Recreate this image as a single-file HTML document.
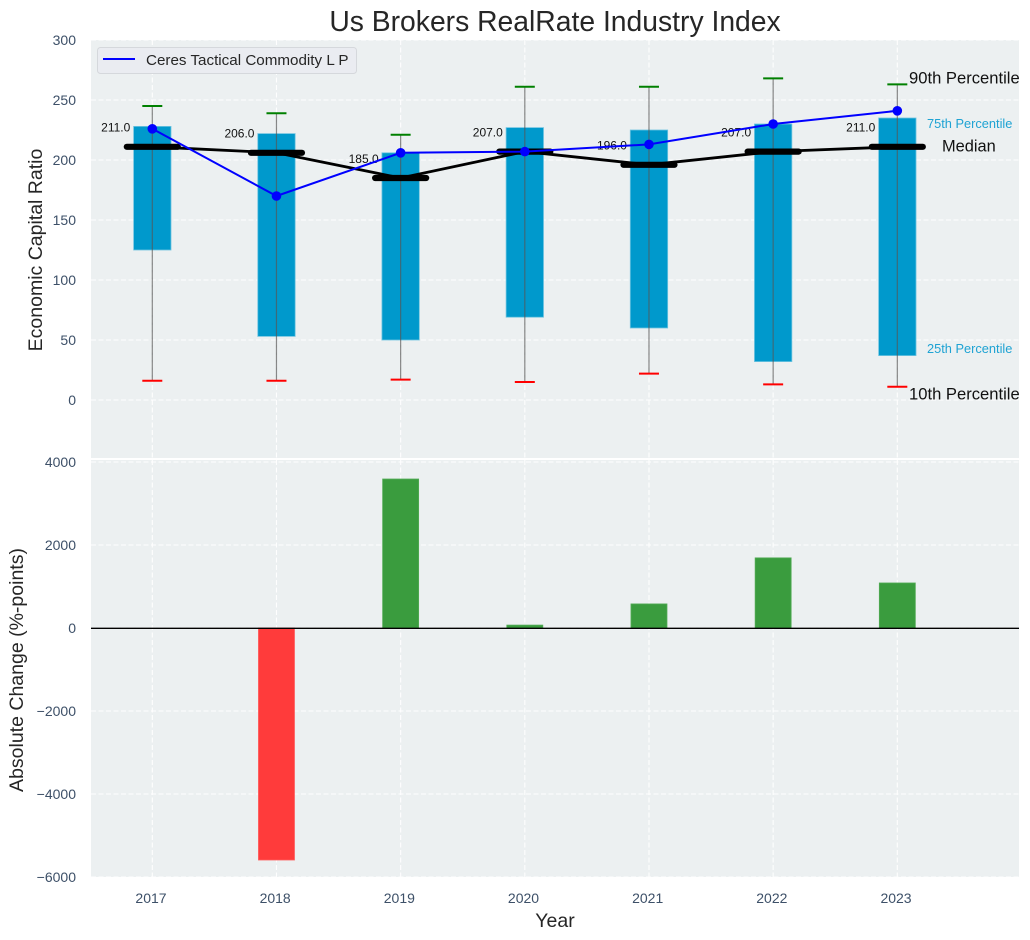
<!DOCTYPE html>
<html>
<head>
<meta charset="utf-8">
<title>Us Brokers RealRate Industry Index</title>
<style>
html,body{margin:0;padding:0;background:#fff;}
svg{display:block;font-family:"Liberation Sans",Arial,sans-serif;}
</style>
</head>
<body>
<svg id="chart" xmlns="http://www.w3.org/2000/svg" width="1030" height="940" viewBox="0 0 1030 940">
  <rect x="0" y="0" width="1030" height="940" fill="#ffffff"/>
  <rect x="91" y="40" width="928" height="418" fill="#ecf0f1"/>
  <rect x="91" y="460" width="928" height="417" fill="#ecf0f1"/>
  <g id="grid"></g>
  <g id="bottomMarks"></g>
  <g id="topMarks"></g>
  <g id="ticks"></g>
  <text x="555" y="31" font-size="28.3" text-anchor="middle" fill="#262626">Us Brokers RealRate Industry Index</text>
  <text transform="translate(42,250) rotate(-90)" font-size="19.5" text-anchor="middle" fill="#262626">Economic Capital Ratio</text>
  <text transform="translate(23,670) rotate(-90)" font-size="19.5" text-anchor="middle" fill="#262626">Absolute Change (%-points)</text>
  <text x="555" y="927" font-size="19.5" text-anchor="middle" fill="#262626">Year</text>
  <g>
    <rect x="97.5" y="47.5" width="259" height="26" rx="3" fill="#eaecf1" stroke="#d5d8dc"/>
    <line x1="103" y1="59" x2="135" y2="59" stroke="#0000ff" stroke-width="2"/>
    <text x="146" y="65" font-size="15.2" fill="#262626">Ceres Tactical Commodity L P</text>
  </g>
  <g>
    <text x="909" y="83.5" font-size="16.6" fill="#111111">90th Percentile</text>
    <text x="927" y="128" font-size="12.8" fill="#1fa3d3">75th Percentile</text>
    <text x="942" y="151.5" font-size="16.4" fill="#111111">Median</text>
    <text x="927" y="353" font-size="12.8" fill="#1fa3d3">25th Percentile</text>
    <text x="909" y="399.5" font-size="16.6" fill="#111111">10th Percentile</text>
  </g>
</svg>
<script>
const years = [2017, 2018, 2019, 2020, 2021, 2022, 2023];
const p90 = [245, 239, 221, 261, 261, 268, 263];
const p75 = [228, 222, 206, 227, 225, 230, 235];
const median = [211, 206, 185, 207, 196, 207, 211];
const p25 = [125, 53, 50, 69, 60, 32, 37];
const p10 = [16, 16, 17, 15, 22, 13, 11];
const company = [226, 170, 206, 207, 213, 230, 241];
const change = [0, -5590, 3590, 70, 580, 1690, 1085];
const topTicks = [0, 50, 100, 150, 200, 250, 300];
const bottomTicks = [-6000, -4000, -2000, 0, 2000, 4000];

const NS = 'http://www.w3.org/2000/svg';
const xScale = v => 152.3 + (v - 2017) * 124.17;
const yTop = v => 400 - v * 1.2;
const yBottom = v => 628 - v * 0.0415;

function make(parent, tag, attrs, text) {
  const el = document.createElementNS(NS, tag);
  for (const k in attrs) el.setAttribute(k, attrs[k]);
  if (text !== undefined) el.textContent = text;
  parent.appendChild(el);
  return el;
}

const grid = document.getElementById('grid');
const ticks = document.getElementById('ticks');
const topMarks = document.getElementById('topMarks');
const bottomMarks = document.getElementById('bottomMarks');
const gridStyle = {stroke: '#ffffff', 'stroke-width': 1.1, 'stroke-dasharray': '5 2.5', opacity: 0.95};

topTicks.forEach(t => {
  const line = make(grid, 'line', Object.assign({x1: 91, x2: 1019, y1: yTop(t), y2: yTop(t)}, gridStyle));
  
  
  const label = make(ticks, 'text', {x: 76, y: yTop(t) + 5, 'font-size': 14, 'text-anchor': 'end', fill: '#3d5068'}, String(t));
  
  
});

bottomTicks.forEach(t => {
  const line = make(grid, 'line', Object.assign({x1: 91, x2: 1019, y1: yBottom(t), y2: yBottom(t)}, gridStyle));
  
  
  const label = make(ticks, 'text', {x: 76, y: yBottom(t) + 5, 'font-size': 14, 'text-anchor': 'end', fill: '#3d5068'}, String(t).replace('-', '\u2212'));
  
  
});

years.forEach(y => {
  const a = make(grid, 'line', Object.assign({x1: xScale(y), x2: xScale(y), y1: 40, y2: 458}, gridStyle));
  
  
  const b = make(grid, 'line', Object.assign({x1: xScale(y), x2: xScale(y), y1: 460, y2: 877}, gridStyle));
  
  
  const label = make(ticks, 'text', {x: xScale(y) - 1.3, y: 903, 'font-size': 14, 'text-anchor': 'middle', fill: '#3d5068'}, String(y));
  
  
});

/* bottom panel */
change.forEach((v, i) => {
  if (v === 0) return;
  const x = xScale(years[i]);
  const y0 = yBottom(Math.max(v, 0));
  const y1 = yBottom(Math.min(v, 0));
  const bar = make(bottomMarks, 'rect', {
    x: x - 18, y: y0, width: 36, height: y1 - y0,
    fill: v > 0 ? '#3a9c3e' : '#ff3b3b',
    stroke: v > 0 ? '#52ab55' : '#ff5a5a',
    'stroke-width': 0.8
  });
  
  
});
const zero = make(bottomMarks, 'line', {x1: 91, x2: 1019, y1: 628.3, y2: 628.3, stroke: '#000000', 'stroke-width': 1.4});



/* top panel */
years.forEach((y, i) => {
  const x = xScale(y);
  const box = make(topMarks, 'rect', {x: x - 18.7, y: yTop(p75[i]), width: 37.4, height: yTop(p25[i]) - yTop(p75[i]), fill: '#0099cc', stroke: '#6fc4e0', 'stroke-width': 0.8});
  
  
});
years.forEach((y, i) => {
  const x = xScale(y);
  const whisker = make(topMarks, 'line', {x1: x, x2: x, y1: yTop(p90[i]), y2: yTop(p10[i]), stroke: '#555555', 'stroke-opacity': 0.7, 'stroke-width': 1.2});
  
  
  const hi = make(topMarks, 'line', {x1: x - 10, x2: x + 10, y1: yTop(p90[i]), y2: yTop(p90[i]), stroke: '#008000', 'stroke-width': 2});
  
  
  const lo = make(topMarks, 'line', {x1: x - 10, x2: x + 10, y1: yTop(p10[i]), y2: yTop(p10[i]), stroke: '#ff0000', 'stroke-width': 2});
  
  
});

const medianLine = make(topMarks, 'polyline', {
  points: years.map((y, i) => xScale(y) + ',' + yTop(median[i])).join(' '),
  fill: 'none', stroke: '#000000', 'stroke-width': 2.8
});



years.forEach((y, i) => {
  const x = xScale(y);
  const seg = make(topMarks, 'line', {x1: x - 25.5, x2: x + 25.5, y1: yTop(median[i]), y2: yTop(median[i]), stroke: '#000000', 'stroke-width': 6.2, 'stroke-linecap': 'round'});
  
  
  const label = make(topMarks, 'text', {x: x - 22, y: yTop(median[i] + 16) + 4, 'font-size': 12, 'text-anchor': 'end', fill: '#111111'}, median[i].toFixed(1));
  
  
});

const companyLine = make(topMarks, 'polyline', {
  points: years.map((y, i) => xScale(y) + ',' + yTop(company[i])).join(' '),
  fill: 'none', stroke: '#0000ff', 'stroke-width': 2
});


years.forEach((y, i) => {
  const dot = make(topMarks, 'circle', {cx: xScale(y), cy: yTop(company[i]), r: 4.8, fill: '#0000ff'});
  
  
});
</script>
</body>
</html>
